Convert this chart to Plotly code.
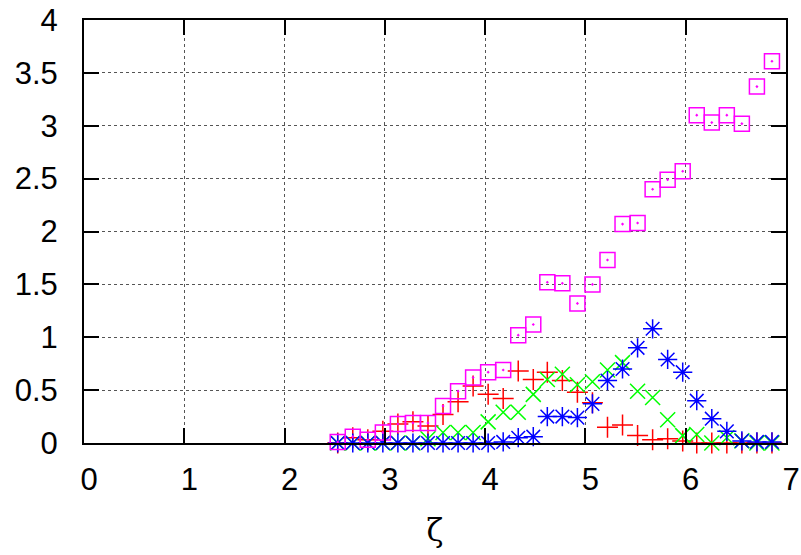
import plotly.graph_objects as go

zeta = [2.53, 2.68, 2.83, 2.98, 3.13, 3.28, 3.43, 3.58, 3.73, 3.88,
        4.03, 4.18, 4.33, 4.48, 4.62, 4.77, 4.92, 5.07, 5.22, 5.37,
        5.52, 5.67, 5.82, 5.97, 6.11, 6.26, 6.41, 6.56, 6.71, 6.86]

red_plus = [0.0, 0.05, 0.03, 0.11, 0.18, 0.20, 0.16, 0.27, 0.39, 0.54,
            0.46, 0.42, 0.68, 0.60, 0.67, 0.59, 0.48, 0.38, 0.15, 0.17,
            0.07, 0.03, 0.04, 0.02, 0.0, 0.0, 0.0, 0.0, 0.0, 0.0]

green_x = [0.0, 0.0, 0.0, 0.0, 0.0, 0.0, 0.04, 0.10, 0.10, 0.10,
           0.20, 0.29, 0.29, 0.46, 0.60, 0.65, 0.55, 0.58, 0.69, 0.76,
           0.49, 0.43, 0.22, 0.07, 0.08, 0.0, 0.05, 0.02, 0.0, 0.0]

blue_star = [0.0, 0.0, 0.0, 0.0, 0.0, 0.0, 0.0, 0.0, 0.0, 0.0,
             0.0, 0.01, 0.05, 0.06, 0.25, 0.25, 0.24, 0.37, 0.59, 0.70,
             0.90, 1.08, 0.79, 0.67, 0.40, 0.23, 0.11, 0.02, 0.01, 0.01]

magenta_sq = [0.01, 0.06, 0.03, 0.10, 0.18, 0.19, 0.19, 0.35, 0.49, 0.62,
              0.67, 0.69, 1.02, 1.12, 1.52, 1.51, 1.32, 1.50, 1.73, 2.07,
              2.08, 2.40, 2.49, 2.57, 3.10, 3.03, 3.10, 3.02, 3.37, 3.61]

x_ticks = [0, 1, 2, 3, 4, 5, 6, 7]
y_ticks = [0, 0.5, 1, 1.5, 2, 2.5, 3, 3.5, 4]
y_labels = ["0", "0.5", "1", "1.5", "2", "2.5", "3", "3.5", "4"]

series = [
    (red_plus, "#ff0000", "cross-thin-open", 15),
    (green_x, "#00ff00", "x-thin-open", 15),
    (blue_star, "#0000ff", "asterisk-open", 16),
    (magenta_sq, "#ff00ff", "square-open-dot", 15),
]

fig = go.Figure()
for vals, col, sym, sz in series:
    fig.add_trace(go.Scatter(
        x=zeta, y=vals, mode="markers", cliponaxis=False,
        marker=dict(symbol=sym, size=sz, color=col,
                    line=dict(color=col, width=1.5)),
        showlegend=False))

axis_common = dict(
    showline=True, linecolor="black", linewidth=2, mirror="allticks",
    ticks="inside", ticklen=15, tickwidth=2, tickcolor="black",
    showgrid=True, gridcolor="#555555", griddash="dot", gridwidth=1,
    zeroline=False, automargin=False,
    tickfont=dict(family="Liberation Sans", size=31, color="black"),
)

fig.update_xaxes(range=[0, 7], tickvals=x_ticks, ticklabelstandoff=8,
                 ticklabelshift=5,
                 title=dict(text="ζ", font=dict(family="DejaVu Serif", size=31, color="black"),
                            standoff=23),
                 **axis_common)
fig.update_yaxes(range=[0, 4], tickvals=y_ticks, ticktext=y_labels,
                 ticklabelstandoff=18, **axis_common)

fig.update_layout(
    width=801, height=555, autosize=False,
    margin=dict(l=84, r=15, t=20, b=112),
    plot_bgcolor="white", paper_bgcolor="white",
)

fig.write_html("out.html")
